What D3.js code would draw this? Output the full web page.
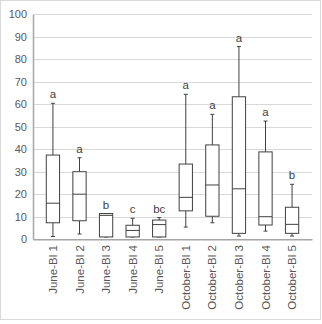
<!DOCTYPE html>
<html><head><meta charset="utf-8">
<script src="https://cdn.jsdelivr.net/npm/d3@7"></script>
<style>body{margin:0;background:#fff}svg{display:block}</style>
</head><body>
<svg id="c" width="322" height="324"></svg>
<script>
const categories = ["June-Bl 1","June-Bl 2","June-Bl 3","June-Bl 4","June-Bl 5","October-Bl 1","October-Bl 2","October-Bl 3","October-Bl 4","October-Bl 5"];
const minVals    = [1.2, 2.3, 1.0, 1.0, 1.0, 5.4, 7.3, 1.4, 3.6, 1.4];
const q1Vals     = [7.3, 8.2, 1.0, 1.0, 1.0, 12.6, 10.2, 2.6, 6.3, 2.6];
const medianVals = [16.0, 20.0, 10.6, 3.9, 6.5, 18.6, 24.1, 22.4, 10.0, 6.6];
const q3Vals     = [37.4, 30.0, 11.4, 6.2, 8.5, 33.4, 41.9, 63.3, 38.8, 14.2];
const maxVals    = [60.4, 36.2, 11.4, 9.3, 9.6, 64.4, 55.5, 85.6, 52.5, 24.4];
const letters    = ["a","a","b","c","bc","a","a","a","a","b"];
const yTicks     = [0,10,20,30,40,50,60,70,80,90,100];

const svg = d3.select("#c");
const L = 33, R = 312, T = 14.2, B = 239.2;
const x = d3.scaleBand().domain(categories).range([L, R]).padding(0.5);
const y = d3.scaleLinear().domain([0, 100]).range([B, T]);

svg.append("rect").attr("x",0.5).attr("y",0.5).attr("width",320).attr("height",319)
  .attr("fill","#fff").attr("stroke","#d9d9d9");

// gridlines
svg.append("g").selectAll("line").data(yTicks.filter(d=>d>0)).join("line")
  .attr("x1",L).attr("x2",R).attr("y1",d=>Math.round(y(d))+0.5).attr("y2",d=>Math.round(y(d))+0.5)
  .attr("stroke","#d9d9d9").attr("stroke-width",1);

// y axis
const ya = svg.append("g").attr("transform",`translate(${L},0)`)
  .call(d3.axisLeft(y).tickValues(yTicks).tickSize(0).tickPadding(6));
ya.select(".domain").attr("stroke","#a6a6a6").attr("stroke-width",1.5);
ya.selectAll("text").attr("fill","#595959").style("font-family","Liberation Sans, Arial, sans-serif").style("font-size","11px");

// x axis
const xa = svg.append("g").attr("transform",`translate(0,${B})`)
  .call(d3.axisBottom(x).tickSize(0).tickSizeOuter(0));
xa.select(".domain").attr("stroke","#a6a6a6").attr("stroke-width",1.5);
xa.selectAll("text").attr("fill","#595959").style("font-family","Liberation Sans, Arial, sans-serif").style("font-size","11.5px")
  .attr("transform","rotate(-90)").attr("text-anchor","end").attr("x",-6).attr("y",0).attr("dy","0.35em");

const g = svg.append("g");
const stroke = "#404040";
categories.forEach((c,i)=>{
  const cx = x(c) + x.bandwidth()/2;
  const bw = x.bandwidth();
  // whiskers
  g.append("line").attr("x1",cx).attr("x2",cx).attr("y1",y(maxVals[i])).attr("y2",y(q3Vals[i])).attr("stroke",stroke);
  g.append("line").attr("x1",cx).attr("x2",cx).attr("y1",y(q1Vals[i])).attr("y2",y(minVals[i])).attr("stroke",stroke);
  g.append("line").attr("x1",cx-2).attr("x2",cx+2).attr("y1",y(maxVals[i])).attr("y2",y(maxVals[i])).attr("stroke",stroke);
  g.append("line").attr("x1",cx-2).attr("x2",cx+2).attr("y1",y(minVals[i])).attr("y2",y(minVals[i])).attr("stroke",stroke);
  // box
  g.append("rect").attr("x",x(c)).attr("width",bw).attr("y",y(q3Vals[i])).attr("height",y(q1Vals[i])-y(q3Vals[i]))
    .attr("fill","#fff").attr("stroke",stroke).attr("stroke-width",1);
  g.append("line").attr("x1",x(c)).attr("x2",x(c)+bw).attr("y1",y(medianVals[i])).attr("y2",y(medianVals[i])).attr("stroke",stroke);
  // letter
  g.append("text").attr("x",cx).attr("y",y(maxVals[i])-5).attr("text-anchor","middle")
    .attr("fill","#404040").style("font-family","Liberation Sans, Arial, sans-serif").style("font-size","11.5px").text(letters[i]);
});
</script>
</body></html>
